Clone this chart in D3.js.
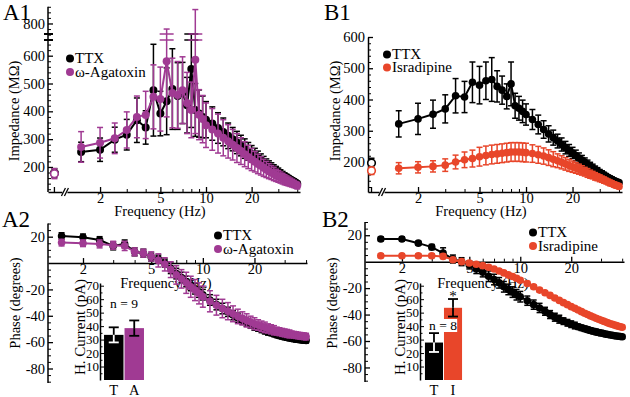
<!DOCTYPE html>
<html>
<head>
<meta charset="utf-8">
<script src="https://cdn.jsdelivr.net/npm/d3@7"></script>
<style>
body { margin: 0; background: #fff; }
svg { display: block; }
</style>
</head>
<body>
<script>
const w = 630;
const h = 397;

// ---------- data ----------
const freq = [1.5,2,2.5,3,3.5,4,4.5,5,5.5,6,6.5,7,7.5,8,8.5,9,9.5,10,
  11,12,13,14,15,16,17,18,19,20,21,22,23,24,25,26,27,28,29,30,31,32,33,34,35,36,37,38,39,40];

const freqTicks = [2, 5, 10, 20];
const freqMinor = [3, 4, 6, 7, 8, 9, 30, 40];

// A1 impedance (MOhm)
const a1Ttx = [254,262,298,316,368,342,476,392,436,480,455,466,422,552,405,392,380,370,
  356,340,326,312,300,288,277,266,256,247,239,231,223,216,209,203,197,191,186,181,176,171,167,163,159,155,151,148,144,140];
const a1TtxErr = [35,42,45,55,80,60,165,80,120,145,120,110,100,210,95,85,75,65,
  60,55,50,46,42,40,37,35,32,30,28,26,24,22,20,19,18,17,16,15,14,13,12,11,10,10,9,9,8,8];
const a1Aga = [272,287,303,333,380,387,452,444,580,466,459,476,430,405,585,388,372,350,
  335,320,305,292,280,268,257,246,236,227,219,211,204,197,191,185,180,175,170,166,162,158,154,151,148,145,142,139,136,133];
const a1AgaErr = [55,55,55,65,75,85,115,115,200,125,120,120,110,100,265,90,85,80,
  75,70,65,60,55,52,48,45,42,40,37,35,33,31,29,27,25,24,22,21,20,19,18,17,16,15,14,13,12,12];
const a1Zero = [178, 176];
const a1ZeroErr = [16, 18];

// B1 impedance (MOhm)
const b1Ttx = [322,338,353,370,412,408,455,446,460,464,442,430,410,450,380,372,362,352,
  336,320,304,290,278,267,256,246,237,229,221,213,206,199,193,187,181,176,171,166,162,158,154,150,147,144,141,138,136,134];
const b1TtxErr = [42,50,45,45,55,50,65,60,60,70,50,45,40,70,40,38,36,34,
  32,30,28,26,24,22,21,20,19,18,17,16,15,14,13,12,12,11,11,10,10,9,9,8,8,8,7,7,7,6];
const b1Isr = [180,183,186,190,200,207,211,217,221,224,226,228,230,232,232,232,231,230,
  227,223,219,214,209,204,199,194,189,185,181,177,173,169,165,161,158,154,151,148,145,142,139,136,133,131,128,126,124,122];
const b1IsrErr = [18,18,18,20,22,25,27,30,30,30,30,30,30,30,30,30,30,30,
  28,27,26,25,24,22,21,20,19,18,17,16,15,14,14,13,12,12,11,11,10,10,9,9,9,8,8,8,7,7];
const b1Zero = [197, 172];
const b1ZeroErr = [15, 12];

// A2 phase (degrees)
const a2Ttx = [20.5,19.5,17.5,13,14.5,8.5,7.5,4.5,3,0,-4,-8,-11,-14,-17,-19.5,-22,-24,
  -28,-31.5,-34.5,-37,-39.5,-41.5,-43.5,-45,-46.5,-48,-49.2,-50.3,-51.3,-52.2,-53,-53.8,-54.5,-55.1,-55.6,-56.1,-56.5,-56.9,-57.2,-57.5,-57.8,-58,-58.2,-58.4,-58.6,-58.7];
const a2TtxErr = [2.5,2.5,2.5,3,3,3,3,3,3,3,4,4,4,4,4,4,4,4,
  4,4,4,3.5,3.5,3.5,3,3,3,3,2.5,2.5,2.5,2.5,2,2,2,2,2,2,2,2,2,2,2,2,2,2,2,2];
const a2Aga = [15.5,15,14.5,13.5,13,8.5,7.5,5,2,-1,-5,-9,-12,-15,-18,-20.5,-23,-25.5,
  -29,-32,-34.5,-36.5,-38.5,-40.5,-42,-43.5,-44.8,-46,-47,-48,-48.8,-49.6,-50.3,-51,-51.6,-52.1,-52.6,-53,-53.4,-53.8,-54.1,-54.4,-54.7,-55,-55.2,-55.4,-55.6,-55.8];
const a2AgaErr = [2.5,2.5,3,3,3.5,3,3,3.5,5,5,6,7,7,8,8,8,8,8,
  8,7.5,7,6.5,6,5.5,5,5,4.5,4.5,4,4,4,3.5,3.5,3.5,3,3,3,3,3,3,2.5,2.5,2.5,2.5,2.5,2.5,2.5,2.5];

// B2 phase (degrees)
const b2Ttx = [17.2,17.2,14,11,6.5,2,0,-2.5,-5.5,-8,-11,-13.5,-16,-19,-21,-23,-25,-26.5,
  -29.5,-32.5,-35,-37.5,-40,-42,-43.5,-45,-46.2,-47.3,-48.3,-49.2,-50,-50.7,-51.4,-52,-52.6,-53.1,-53.6,-54,-54.4,-54.8,-55.1,-55.4,-55.7,-56,-56.2,-56.4,-56.6,-56.8];
const b2TtxErr = [1.5,1.5,1.5,2,4,3,3,3,3.5,3.5,4,4,4,4,4,4,4,4,
  3.5,3.5,3.5,3,3,3,3,2.5,2.5,2.5,2.5,2,2,2,2,2,2,2,2,2,1.5,1.5,1.5,1.5,1.5,1.5,1.5,1.5,1.5,1.5];
const b2Isr = [4.5,4.5,4.5,4.5,4,1.5,0,-1,-2,-3,-4.2,-5.5,-7,-8.5,-10,-11.2,-12.5,-14,
  -16.5,-19,-21.5,-23.5,-25.5,-27.5,-29.3,-31,-32.5,-34,-35.3,-36.6,-37.8,-39,-40,-41,-41.9,-42.8,-43.6,-44.3,-45,-45.7,-46.3,-46.9,-47.4,-47.9,-48.4,-48.8,-49.2,-49.6];
const b2IsrErr = [1.5,1.5,1.5,1.5,1.5,1.5,1.5,1.5,1.5,1.5,1.5,1.5,1.5,1.5,1.5,1.5,1.5,1.5,
  1.5,1.5,1.5,1.5,1.5,1.5,1.5,1.5,1.5,1.5,1.5,1.5,1.5,1.5,1.5,1.5,1.5,1.5,1.5,1.5,1.5,1.5,1.5,1.5,1.5,1.5,1.5,1.5,1.5,1.5];

// insets: H current (pA)
const insetACats = ["T", "A"];
const insetAVals = [33.5, 38.5];
const insetAErr = [5.6, 5.7];
const insetBCats = ["T", "I"];
const insetBVals = [27.8, 53.6];
const insetBErr = [7, 6.5];

const black = "#000";
const magenta = "#a03a93";
const red = "#e8462a";
const serif = "'Liberation Serif', 'Times New Roman', 'DejaVu Serif', serif";
const plain = d => String(d);   // keep the hyphen the figure uses for minus

const svg = d3.select("body")
              .append("svg")
              .attr("width", w)
              .attr("height", h)
              .attr("font-family", serif);

// ---------- helpers ----------
function errorBars(g, pts, x, y, color, cap, sw) {
  const eg = g.append("g").attr("stroke", color).attr("stroke-width", sw);
  eg.selectAll(null).data(pts).enter().append("line")
    .attr("x1", d => x(d.f)).attr("x2", d => x(d.f))
    .attr("y1", d => y(d.v + d.e)).attr("y2", d => y(d.v - d.e));
  eg.selectAll(null).data(pts).enter().append("line")
    .attr("x1", d => x(d.f) - cap).attr("x2", d => x(d.f) + cap)
    .attr("y1", d => y(d.v + d.e)).attr("y2", d => y(d.v + d.e));
  eg.selectAll(null).data(pts).enter().append("line")
    .attr("x1", d => x(d.f) - cap).attr("x2", d => x(d.f) + cap)
    .attr("y1", d => y(d.v - d.e)).attr("y2", d => y(d.v - d.e));
}

function series(g, x, y, vals, errs, color, r) {
  const pts = freq.map((f, i) => ({f: f, v: vals[i], e: errs[i]}));
  errorBars(g, pts, x, y, color, 3, 1.5);
  g.append("path").datum(pts)
    .attr("d", d3.line().x(d => x(d.f)).y(d => y(d.v)))
    .attr("fill", "none").attr("stroke", color).attr("stroke-width", 2);
  g.selectAll(null).data(pts).enter().append("circle")
    .attr("cx", d => x(d.f)).attr("cy", d => y(d.v)).attr("r", r)
    .attr("fill", color);
  return pts;
}

function zeroPoint(g, xPos, y, v, e, color) {
  const pts = [{f: 1, v: v, e: e}];
  errorBars(g, pts, () => xPos, y, color, 3, 1.5);
  g.append("circle").attr("cx", xPos).attr("cy", y(v)).attr("r", 3.8)
    .attr("fill", "#fff").attr("stroke", color).attr("stroke-width", 1.6);
}

function legend(g, x0, y0, items, gap) {
  items.forEach((it, i) => {
    g.append("circle").attr("cx", x0).attr("cy", y0 + i * gap - 4.5).attr("r", 4).attr("fill", it[1]);
    g.append("text").attr("x", x0 + 5).attr("y", y0 + i * gap)
      .style("font-size", "15px").text(it[0]);
  });
}

function yTitle(txt, x, y, size) {
  svg.append("text").attr("transform", "translate(" + x + "," + y + ") rotate(-90)")
    .attr("text-anchor", "middle").style("font-size", size + "px").text(txt);
}

function freqAxis(x, yPos, padding, zeroX) {
  const g = svg.append("g").attr("transform", "translate(0," + yPos + ")");
  g.call(d3.axisBottom(x).tickValues(freqTicks).tickFormat(plain)
      .tickSizeInner(-5).tickSizeOuter(0).tickPadding(padding));
  g.selectAll(".tick text").style("font-size", "14.5px");
  const gm = svg.append("g").attr("transform", "translate(0," + yPos + ")");
  gm.call(d3.axisBottom(x).tickValues(freqMinor).tickFormat("")
      .tickSizeInner(-3).tickSizeOuter(0));
  gm.select(".domain").remove();
  g.select(".domain").attr("stroke-width", 1.5);
  g.selectAll(".tick line").attr("stroke-width", 1.3);
  if (zeroX !== undefined) {
    g.append("line").attr("x1", zeroX).attr("x2", zeroX).attr("y1", 0).attr("y2", -5)
      .attr("stroke", "#000").attr("stroke-width", 1.3);
    g.append("text").attr("x", zeroX).attr("y", padding).attr("dy", "0.71em")
      .attr("text-anchor", "middle").style("font-size", "14.5px").text("0");
    // axis break
    g.append("rect").attr("x", zeroX + 8).attr("y", -3).attr("width", 5).attr("height", 6).attr("fill", "#fff");
    [8, 11].forEach(o => {
      g.append("line").attr("x1", zeroX + o - 1).attr("x2", zeroX + o + 3)
        .attr("y1", 4).attr("y2", -4).attr("stroke", "#000").attr("stroke-width", 1.3);
    });
  }
  return g;
}

function yAxis(y, xPos, major, minor, fmt) {
  const g = svg.append("g").attr("transform", "translate(" + xPos + ",0)");
  g.call(d3.axisLeft(y).tickValues(major).tickFormat(fmt)
      .tickSizeInner(-5).tickSizeOuter(0).tickPadding(3));
  g.selectAll(".tick text").style("font-size", "14.5px");
  g.select(".domain").attr("stroke-width", 1.5);
  g.selectAll(".tick line").attr("stroke-width", 1.3);
  const gm = svg.append("g").attr("transform", "translate(" + xPos + ",0)");
  gm.call(d3.axisLeft(y).tickValues(minor).tickFormat("").tickSizeInner(-3).tickSizeOuter(0));
  gm.select(".domain").remove();
  return g;
}

function range(a, b, s) { return d3.range(a, b + 1e-9, s); }

// ---------- A1 ----------
const xA1 = d3.scaleLog().domain([0.907, 41.7]).range([48, 300]);
const yA1 = d3.scaleLinear().domain([110, 660, 755, 870]).range([192, 39, 36, 4]);

{
  const major = [200, 300, 400, 500, 600, 800];
  const minor = range(120, 660, 20).concat(range(760, 860, 20)).filter(v => major.indexOf(v) < 0);
  const g = yAxis(yA1, 48, major, minor, plain);
  g.select(".domain").attr("d", "M0," + yA1(110) + "V" + yA1(860));
  [yA1(660) + 1, yA1(755) - 2].forEach(yy => {
    g.append("line").attr("x1", -4).attr("x2", 5).attr("y1", yy).attr("y2", yy)
      .attr("stroke", "#000").attr("stroke-width", 2);
  });
  freqAxis(xA1, 192, 1, xA1(1));
  const pg = svg.append("g");
  series(pg, xA1, yA1, a1Ttx, a1TtxErr, black, 4);
  series(pg, xA1, yA1, a1Aga, a1AgaErr, magenta, 4);
  // break marks on error bars crossing the axis break
  [[a1Ttx, a1TtxErr, black], [a1Aga, a1AgaErr, magenta]].forEach(s => {
    freq.forEach((f, i) => {
      if (s[0][i] + s[1][i] > 700) {
        [yA1(660) + 1, yA1(755) - 2].forEach(yy => {
          pg.append("line").attr("x1", xA1(f) - 7).attr("x2", xA1(f) + 7)
            .attr("y1", yy).attr("y2", yy).attr("stroke", s[2]).attr("stroke-width", 1.5);
        });
      }
    });
  });
  zeroPoint(pg, xA1(1), yA1, a1Zero[0], a1ZeroErr[0], black);
  zeroPoint(pg, xA1(1), yA1, a1Zero[1], a1ZeroErr[1], magenta);
  legend(svg, 70, 63, [["TTX", black], ["\u03c9-Agatoxin", magenta]], 13.5);
  yTitle("Impedance (M\u03a9)", 19, 111, 14.5);
  svg.append("text").attr("x", 160).attr("y", 216).attr("text-anchor", "middle")
    .style("font-size", "14.5px").text("Frequency (Hz)");
  svg.append("text").attr("x", 3).attr("y", 20).style("font-size", "23px").text("A1");
}

// ---------- B1 ----------
const xB1 = d3.scaleLog().domain([0.949, 41.8]).range([368, 622]);
const yB1 = d3.scaleLinear().domain([104, 600]).range([192, 37]);

{
  const major = [200, 300, 400, 500, 600];
  const minor = range(120, 580, 20).filter(v => major.indexOf(v) < 0);
  yAxis(yB1, 368, major, minor, plain);
  freqAxis(xB1, 192, 1, xB1(1));
  const pg = svg.append("g");
  series(pg, xB1, yB1, b1Ttx, b1TtxErr, black, 3.8);
  series(pg, xB1, yB1, b1Isr, b1IsrErr, red, 3.8);
  zeroPoint(pg, xB1(1), yB1, b1Zero[0], b1ZeroErr[0], black);
  zeroPoint(pg, xB1(1), yB1, b1Zero[1], b1ZeroErr[1], red);
  legend(svg, 387, 59, [["TTX", black], ["Isradipine", red]], 13);
  yTitle("Impedance (M\u03a9)", 340, 111, 14.5);
  svg.append("text").attr("x", 481).attr("y", 216).attr("text-anchor", "middle")
    .style("font-size", "14.5px").text("Frequency (Hz)");
  svg.append("text").attr("x", 324).attr("y", 20).style("font-size", "23px").text("B1");
}

// ---------- phase panels ----------
function phasePanel(x, y, axisX, s1, e1, c1, s2, e2, c2, titleX, freqX, legX, legY, lbl, lblX) {
  const major = [-80, -60, -40, -20, 20];
  const minor = range(-90, 30, 5).filter(v => major.indexOf(v) < 0 && v !== 0);
  const g = yAxis(y, axisX, major, minor, plain);
  g.select(".domain").attr("d", "M0," + y.range()[0] + "V" + y.range()[1]);
  svg.append("text").attr("x", freqX).attr("y", 288).attr("text-anchor", "middle")
    .style("font-size", "14.5px").text("Frequency (Hz)");
  freqAxis(x, y(0), 1);
  const pg = svg.append("g");
  series(pg, x, y, s1, e1, c1, 3.8);
  series(pg, x, y, s2, e2, c2, 3.8);
  legend(svg, legX, legY, [["TTX", black], [c2 === red ? "Isradipine" : "\u03c9-Agatoxin", c2]], 13.5);
  yTitle("Phase (degrees)", titleX, 303, 14.5);
  svg.append("text").attr("x", lblX).attr("y", 227).style("font-size", "23px").text(lbl);
}

const xA2 = d3.scaleLog().domain([1.25, 40.5]).range([48, 307]);
const yA2 = d3.scaleLinear().domain([-91, 30]).range([383, 223.5]);
phasePanel(xA2, yA2, 48, a2Ttx, a2TtxErr, black, a2Aga, a2AgaErr, magenta, 20, 166, 218, 240, "A2", 2);

const xB2 = d3.scaleLog().domain([1.21, 41]).range([365, 624]);
const yB2 = d3.scaleLinear().domain([-91, 30]).range([382, 222]);
phasePanel(xB2, yB2, 365, b2Ttx, b2TtxErr, black, b2Isr, b2IsrErr, red, 337, 483, 533, 237, "B2", 322);

// ---------- insets ----------
function inset(axisX, bandRange, cats, vals, errs, colors, titleX) {
  const y = d3.scaleLinear().domain([0, 72]).range([380, 283]);
  const x = d3.scaleBand().domain(cats).range(bandRange).paddingInner(0.05).paddingOuter(0.05);
  const g = svg.append("g").attr("transform", "translate(" + axisX + ",0)");
  g.call(d3.axisLeft(y).tickValues([10, 20, 30, 40, 50, 60, 70]).tickSizeInner(-4).tickSizeOuter(0).tickPadding(1));
  g.selectAll(".tick text").style("font-size", "13px");
  g.select(".domain").attr("stroke-width", 1.5);
  const gm = svg.append("g").attr("transform", "translate(" + axisX + ",0)");
  gm.call(d3.axisLeft(y).tickValues(range(5, 65, 10)).tickFormat("").tickSizeInner(-2.5).tickSizeOuter(0));
  gm.select(".domain").remove();
  const bars = cats.map((c, i) => ({c: c, v: vals[i], e: errs[i], col: colors[i]}));
  svg.selectAll(null).data(bars).enter().append("rect")
    .attr("x", d => x(d.c)).attr("width", x.bandwidth())
    .attr("y", d => y(d.v)).attr("height", d => y(0) - y(d.v))
    .attr("fill", d => d.col);
  bars.forEach(d => {
    const cx = x(d.c) + x.bandwidth() / 2;
    const lowCol = d.col === black ? "#fff" : "#000";
    svg.append("line").attr("x1", cx).attr("x2", cx).attr("y1", y(d.v + d.e)).attr("y2", y(d.v))
      .attr("stroke", "#000").attr("stroke-width", 1.8);
    svg.append("line").attr("x1", cx - 5).attr("x2", cx + 5).attr("y1", y(d.v + d.e)).attr("y2", y(d.v + d.e))
      .attr("stroke", "#000").attr("stroke-width", 1.8);
    svg.append("line").attr("x1", cx).attr("x2", cx).attr("y1", y(d.v)).attr("y2", y(d.v - d.e))
      .attr("stroke", lowCol).attr("stroke-width", 1.8);
    svg.append("line").attr("x1", cx - 5).attr("x2", cx + 5).attr("y1", y(d.v - d.e)).attr("y2", y(d.v - d.e))
      .attr("stroke", lowCol).attr("stroke-width", 1.8);
    svg.append("text").attr("x", cx).attr("y", 395).attr("text-anchor", "middle")
      .style("font-size", "14.5px").text(d.c);
  });
  yTitle("H. Current (pA)", titleX, 327, 15);
  return {x: x, y: y};
}

const insA = inset(100, [103, 145], insetACats, insetAVals, insetAErr, [black, magenta], 85);
svg.append("text").attr("x", 124).attr("y", 308).attr("text-anchor", "middle")
  .style("font-size", "13.5px").text("n = 9");

const insB = inset(420, [424, 463], insetBCats, insetBVals, insetBErr, [black, red], 405);
{
  const t = svg.append("text").attr("x", 443).attr("y", 330).attr("text-anchor", "middle")
    .style("font-size", "13.5px").text("n = 8");
  const bb = t.node().getBBox();
  svg.insert("rect", function() { return t.node(); })
    .attr("x", bb.x + 10).attr("y", bb.y + 1).attr("width", bb.width - 10).attr("height", bb.height - 2)
    .attr("fill", "#fff");
  svg.append("text").attr("x", insB.x("I") + insB.x.bandwidth() / 2).attr("y", 301)
    .attr("text-anchor", "middle").style("font-size", "15px").text("*");
}

// the axis generator stamps sans-serif on its groups; use the serif face everywhere
svg.selectAll("g").attr("font-family", null);
svg.selectAll("text").style("font-family", serif);
</script>
</body>
</html>
